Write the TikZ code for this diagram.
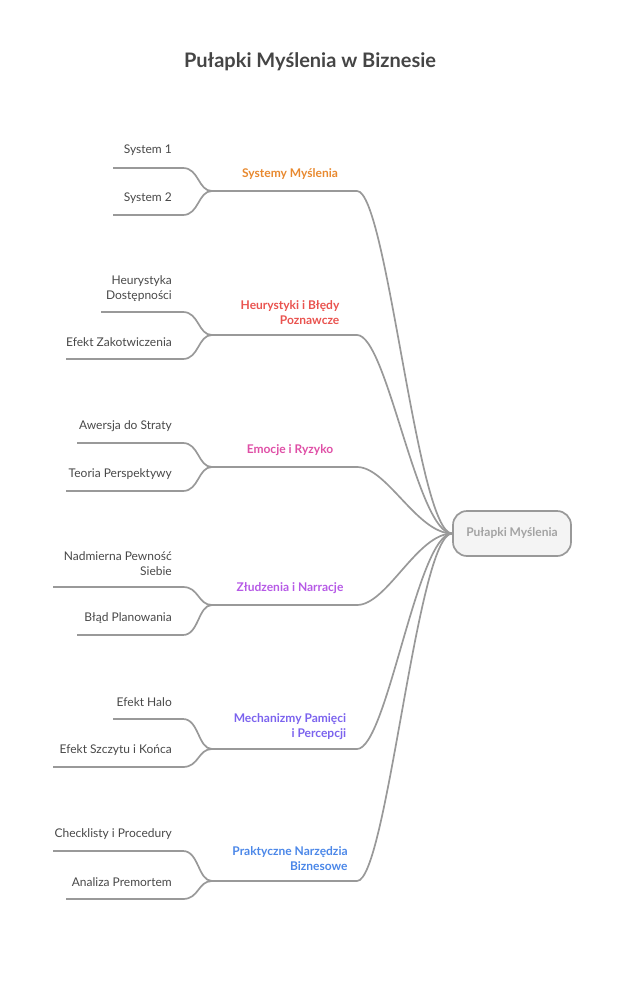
\documentclass[tikz,border=0pt]{standalone}
\usepackage{fontspec}
\setmainfont{Lato}
\definecolor{titlegray}{HTML}{454545}
\definecolor{leafgray}{HTML}{484848}
\definecolor{linegray}{HTML}{999999}
\definecolor{rootfill}{HTML}{F4F4F4}
\definecolor{roottext}{HTML}{A3A3A3}
\definecolor{orangeT}{HTML}{E8892F}
\definecolor{redT}{HTML}{E9534F}
\definecolor{pinkT}{HTML}{DF4FA6}
\definecolor{purpleT}{HTML}{B65AE6}
\definecolor{violetT}{HTML}{7B63EE}
\definecolor{blueT}{HTML}{4B87E8}
\tikzset{
  leaf/.style={anchor=east, align=right, inner sep=0pt, text=leafgray, yshift=-1.5pt,
    font=\fontsize{12}{15}\selectfont},
  topic/.style={align=right, inner sep=0pt, yshift=-1.5pt, font=\bfseries\fontsize{12}{15}\selectfont},
  link/.style={draw=linegray, line width=1.7pt},
  root/.style={draw=linegray, fill=rootfill, line width=1.7pt, rounded corners=14pt,
    minimum width=118pt, minimum height=45pt, text=roottext,
    font=\bfseries\fontsize{12}{15}\selectfont}
}
\begin{document}
\begin{tikzpicture}[x=1pt,y=-1pt]

	\useasboundingbox (0,0) rectangle (620,984);

	\node [font=\bfseries\fontsize{20}{24}\selectfont, text=titlegray] (title) at (310,62) {Pułapki Myślenia w Biznesie};

	\node [root] (R) at (512,533.5) {Pułapki Myślenia};

	% topics
	\node [topic, text=orangeT] (T1) at (290,173) {Systemy Myślenia};
	\node [topic, text=redT] (T2) at (290,311.5) {Heurystyki i Błędy\\Poznawcze};
	\node [topic, text=pinkT] (T3) at (290,449) {Emocje i Ryzyko};
	\node [topic, text=purpleT] (T4) at (290,587) {Złudzenia i Narracje};
	\node [topic, text=violetT] (T5) at (290,725.5) {Mechanizmy Pamięci\\i Percepcji};
	\node [topic, text=blueT] (T6) at (290,857.5) {Praktyczne Narzędzia\\Biznesowe};

	% leaves
	\node [leaf] (L1a) at (172,149) {System 1};
	\node [leaf] (L1b) at (172,197) {System 2};
	\node [leaf] (L2a) at (172,287.5) {Heurystyka\\Dostępności};
	\node [leaf] (L2b) at (172,341) {Efekt Zakotwiczenia};
	\node [leaf] (L3a) at (172,425) {Awersja do Straty};
	\node [leaf] (L3b) at (172,473) {Teoria Perspektywy};
	\node [leaf] (L4a) at (172,562.5) {Nadmierna Pewność\\Siebie};
	\node [leaf] (L4b) at (172,617) {Błąd Planowania};
	\node [leaf] (L5a) at (172,701) {Efekt Halo};
	\node [leaf] (L5b) at (172,749) {Efekt Szczytu i Końca};
	\node [leaf] (L6a) at (172,833) {Checklisty i Procedury};
	\node [leaf] (L6b) at (172,881) {Analiza Premortem};

	% junctions and topic line ends
	\coordinate (J1) at (212,191);
	\coordinate (J2) at (212,335);
	\coordinate (J3) at (212,467);
	\coordinate (J4) at (212,605);
	\coordinate (J5) at (212,749);
	\coordinate (J6) at (212,881);
	\foreach \i in {1,...,6} \coordinate (E\i) at ([xshift=145pt]J\i);

	% leaf underlines
	\coordinate (S1a) at (113,168); \coordinate (S1b) at (113,215);
	\coordinate (S2a) at (101,312); \coordinate (S2b) at (66,359);
	\coordinate (S3a) at (77,443);  \coordinate (S3b) at (66,491);
	\coordinate (S4a) at (53,587);  \coordinate (S4b) at (77,635);
	\coordinate (S5a) at (113,719); \coordinate (S5b) at (53,767);
	\coordinate (S6a) at (53,851);  \coordinate (S6b) at (66,899);

	\foreach \i in {1,...,6} {
		\foreach \s in {a,b} {
			\draw [link] (S\i\s) -| ([xshift=-29pt]J\i |- S\i\s) .. controls +(16,0) and +(-14,0) .. (J\i);
		}
		\draw [link] (J\i) -- (E\i) .. controls +(30,0) and +(-35,0) .. (R.west);
	}

\end{tikzpicture}
\end{document}
